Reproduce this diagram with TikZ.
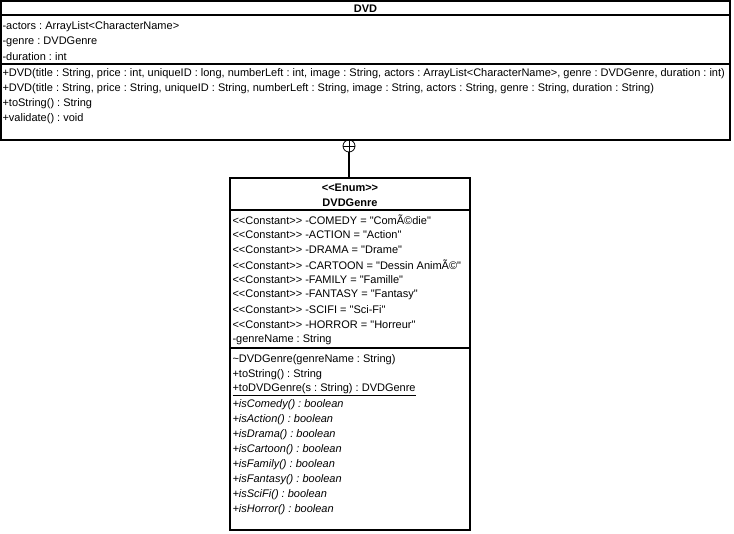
\documentclass[tikz,border=0pt]{standalone}
\usepackage{fontspec}
\usepackage{tikz}
\newfontfamily\umlfont{Liberation Sans}
\frenchspacing

\begin{document}
\begin{tikzpicture}[x=0.75pt, y=-0.75pt, line width=0.8pt,
  font=\umlfont\fontsize{8.25}{10}\selectfont,
  classbox/.style={draw, inner sep=0pt},
  member/.style={anchor=west, inner sep=0pt},
  nested/.style={draw, circle, minimum size=9pt, inner sep=0pt, line width=0.6pt,
    path picture={\draw[line width=0.6pt] (path picture bounding box.north) -- (path picture bounding box.south)
      (path picture bounding box.west) -- (path picture bounding box.east);}}]
  \useasboundingbox (0,0) rectangle (734,534);

  % Class DVD
  \node[classbox, minimum width=546.75pt, minimum height=104.25pt] (dvd) at (365.5,70.5) {};
  \node (dvdname) at (365.5,9) {\textbf{DVD}};
  \draw (1,15) -- (730,15) (1,64) -- (730,64);
  \foreach \t [count=\i] in {{-actors : ArrayList<CharacterName>}, {-genre : DVDGenre}, {-duration : int}}
    \node[member] (dvdattr\i) at (2,{12+15*\i}) {\t};
  \foreach \t [count=\i] in {{+DVD(title : String, price : int, uniqueID : long, numberLeft : int, image : String, actors : ArrayList<CharacterName>, genre : DVDGenre, duration : int)},
    {+DVD(title : String, price : String, uniqueID : String, numberLeft : String, image : String, actors : String, genre : String, duration : String)},
    {+toString() : String}, {+validate() : void}}
    \node[member] (dvdop\i) at (2,{59+15*\i}) {\t};

  % Nested enum marker
  \node[nested] (inner) at (349,146) {};

  % Enum DVDGenre
  \node[classbox, minimum width=180pt, minimum height=264pt] (genre) at (350,354) {};
  \node (stereo) at (350,188) {\textbf{<<Enum>>}};
  \node (genrename) at (350,203) {\textbf{DVDGenre}};
  \draw (230,210) -- (470,210) (230,348) -- (470,348);
  \foreach \t [count=\i] in {{-COMEDY = "ComÃ©die"}, {-ACTION = "Action"}, {-DRAMA = "Drame"},
    {-CARTOON = "Dessin AnimÃ©"}, {-FAMILY = "Famille"}, {-FANTASY = "Fantasy"},
    {-SCIFI = "Sci-Fi"}, {-HORROR = "Horreur"}}
    \node[member] (const\i) at (232,{205+15*\i}) {<<Constant>> \t};
  \node[member] (genreattr) at (232,340) {-genreName : String};
  \node[member] (genreop1) at (232,360) {\textasciitilde DVDGenre(genreName : String)};
  \node[member] (genreop2) at (232,375) {+toString() : String};
  \node[member] (genreop3) at (232,390) {\underline{+toDVDGenre(s : String) : DVDGenre}};
  \foreach \t [count=\i] in {Comedy, Action, Drama, Cartoon, Family, Fantasy, SciFi, Horror}
    \node[member] (isop\i) at (232,{390+15*\i}) {\textit{+is\t() : boolean}};

  % Nesting connector
  \draw (inner) -- (inner |- genre.north);
\end{tikzpicture}
\end{document}
